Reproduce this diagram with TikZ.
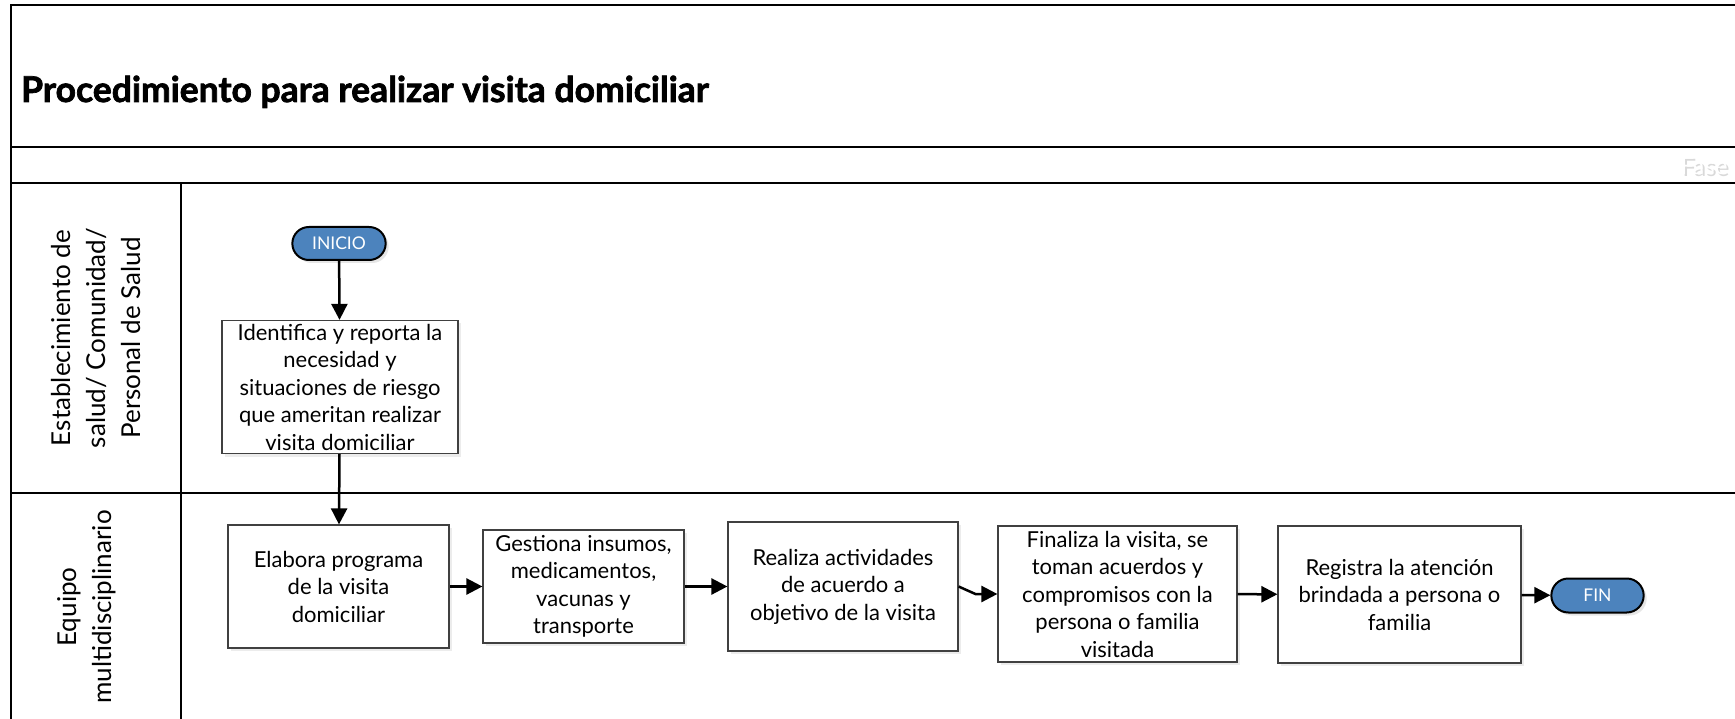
\documentclass[tikz,border=0pt]{standalone}
\usepackage{fontspec}
\setmainfont{Lato}
\newfontfamily\titlefont{Lato}[UprightFont=*-Bold,FakeBold=2]
\usetikzlibrary{arrows.meta,shadows,shapes.misc}
\definecolor{termblue}{RGB}{76,131,189}
\definecolor{boxline}{RGB}{64,64,64}
\tikzstyle{flowback}=[line width=2.5pt,{Triangle[length=16pt,width=16pt]}-]

\begin{document}
\begin{tikzpicture}[x=1pt,y=-1pt]
\tikzstyle{process}=[shape=rectangle,draw=boxline,line width=1.2pt,fill=white,align=center,font=\fontsize{22}{27.5}\selectfont,drop shadow={opacity=0.15,shadow xshift=3pt,shadow yshift=-3pt}]
\tikzstyle{terminal}=[shape=rounded rectangle,draw=black,line width=2pt,fill=termblue,text=white,font=\fontsize{17.5}{20}\selectfont,minimum width=100pt,minimum height=33pt,drop shadow={opacity=0.2,shadow xshift=3pt,shadow yshift=-3pt}]
\tikzstyle{lane}=[align=center,rotate=90,font=\fontsize{26}{35}\selectfont]
\tikzstyle{frame}=[line width=2.5pt,line cap=rect]
\useasboundingbox (0,0) rectangle (1735,719);
% frame and lanes
\draw[frame] (11,719) -- (11,5) -- (1735,5);
\draw[frame] (11,147) -- (1735,147);
\draw[frame] (11,183) -- (1735,183);
\draw[frame] (11,493) -- (1735,493);
\draw[frame] (181,183) -- (181,719);
\node[anchor=base west,inner sep=0pt,font=\fontsize{35.5}{40}\titlefont] (title) at (21,102) {Procedimiento para realizar visita domiciliar};
\node[anchor=base west,font=\fontsize{24}{28}\selectfont,text=black!15] (faseshadow) at (1679,177) {Fase};
\node[anchor=base west,font=\fontsize{24}{28}\selectfont,text=white] (fase) at (1677,175) {Fase};
\node[lane] (lane1) at (96,338) {Establecimiento de\\salud/ Comunidad/\\Personal de Salud};
\node[lane] (lane2) at (87,607) {Equipo\\multidisciplinario};
% steps
\node[terminal] (inicio) at (339,243.5) {INICIO};
\node[process,minimum width=236pt,minimum height=132pt] (ident) at (340,387) {Identifica y reporta la\\necesidad y\\situaciones de riesgo\\que ameritan realizar\\visita domiciliar}
    edge [flowback] (inicio);
\node[process,minimum width=221pt,minimum height=123pt] (elab) at (338.5,586.5) {Elabora programa\\de la visita\\domiciliar}
    edge [flowback] (ident);
\node[process,minimum width=201pt,minimum height=113pt] (gest) at (583.5,586.5) {Gestiona insumos,\\medicamentos,\\vacunas y\\transporte}
    edge [flowback] (elab);
\node[process,minimum width=230pt,minimum height=129pt] (real) at (843,586.5) {Realiza actividades\\de acuerdo a\\objetivo de la visita}
    edge [flowback] (gest);
\node[process,minimum width=239pt,minimum height=136pt] (fina) at (1117.5,594) {Finaliza la visita, se\\toman acuerdos y\\compromisos con la\\persona o familia\\visitada};
\draw[flowback] (fina.west) -- ++(-22,0) -- (real.east);
\node[process,minimum width=243pt,minimum height=137pt] (regi) at (1399.5,594.5) {Registra la atención\\brindada a persona o\\familia}
    edge [flowback] (fina);
\node[terminal,minimum width=99pt,minimum height=34pt] (fin) at (1597.5,595.5) {FIN}
    edge [flowback] (regi);
\end{tikzpicture}
\end{document}
